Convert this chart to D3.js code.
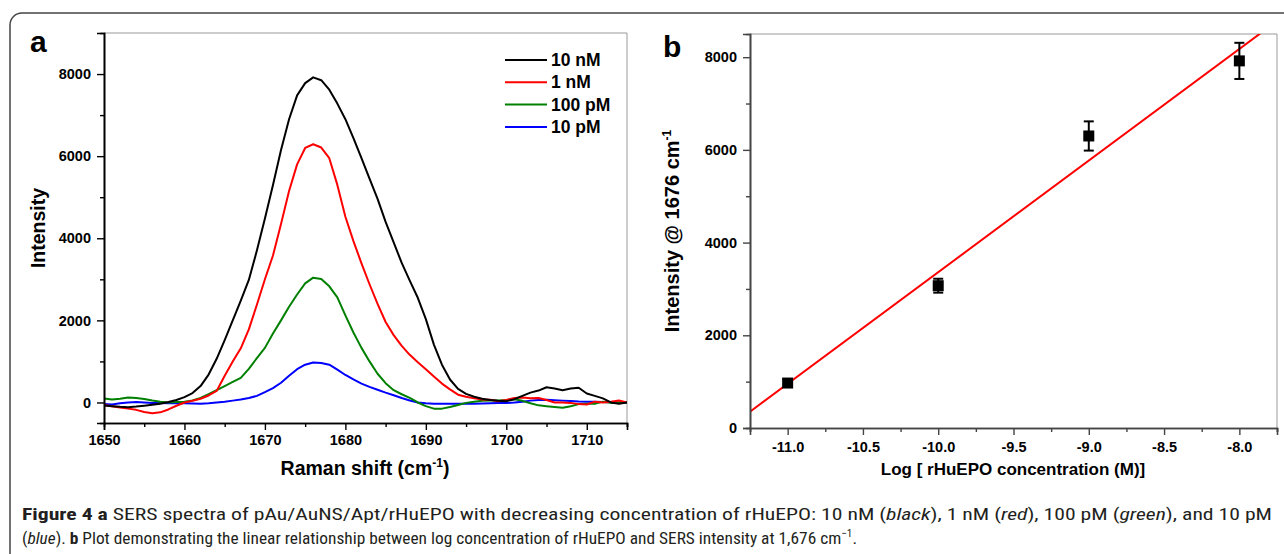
<!DOCTYPE html>
<html>
<head>
<meta charset="utf-8">
<script src="https://cdn.jsdelivr.net/npm/d3@7"></script>
<style>
  body { margin: 0; background: #fff; }
  svg { display: block; }
</style>
</head>
<body>
<svg id="chart"></svg>
<script>
// ---- data: panel a, SERS spectra ----
var shift = [];
for (var s = 1650; s <= 1715; s++) shift.push(s);

var seriesNames = ["10 nM", "1 nM", "100 pM", "10 pM"];
var seriesColors = ["#000000", "#ff0000", "#008000", "#0000ff"];

var black10nM = [-75, -90, -105, -115, -100, -80, -57, -30, 10, 60,
  130, 230, 400, 680, 1064, 1520, 2000, 2480, 2984, 3700,
  4480, 5300, 6150, 6900, 7480, 7780, 7920, 7850, 7620, 7280,
  6900, 6440, 5950, 5450, 4960, 4400, 3900, 3400, 2970, 2550,
  2030, 1410, 920, 560, 330, 210, 140, 90, 60, 40,
  30, 80, 160, 240, 290, 370, 340, 300, 340, 360,
  220, 160, 100, 0, -30, 0];

var red1nM = [-60, -90, -120, -150, -180, -230, -260, -240, -170, -80,
  0, 40, 90, 170, 280, 650, 1000, 1320, 1780, 2380,
  3000, 3580, 4350, 5150, 5800, 6200, 6290, 6210, 5950, 5300,
  4525, 3930, 3390, 2880, 2400, 1960, 1640, 1380, 1160, 980,
  810, 630, 460, 320, 190, 140, 100, 75, 65, 30,
  60, 110, 120, 105, 110, 60, 0, 0, -10, -40,
  -50, 20, 0, 20, 50, 0];

var green100pM = [100, 70, 90, 120, 110, 85, 50, 20, 0, 10,
  20, 50, 110, 200, 300, 400, 500, 600, 820, 1080,
  1330, 1680, 2000, 2330, 2630, 2900, 3040, 3010, 2830, 2560,
  2120, 1704, 1330, 1000, 700, 470, 300, 200, 110, 0,
  -90, -150, -150, -110, -60, -10, 20, 40, 50, 50,
  60, 80, 40, -20, -70, -90, -110, -130, -90, -40,
  -30, -30, 20, -10, 0, 0];

var blue10pM = [-40, -50, -20, 0, 10, 0, -10, -15, -20, -20,
  -20, -25, -30, -20, 0, 20, 45, 70, 110, 160,
  250, 350, 480, 650, 810, 920, 975, 960, 920, 800,
  670, 560, 460, 380, 310, 240, 175, 110, 50, 0,
  -20, -30, -30, -30, -30, -30, -30, -25, -20, -15,
  -15, 0, 20, 45, 60, 65, 55, 45, 35, 25,
  20, 15, 10, 5, 0, 0];

var spectra = [black10nM, red1nM, green100pM, blue10pM];

// ---- data: panel b, calibration ----
var logConc = [-11, -10, -9, -8];
var peakIntensity = [970, 3070, 6300, 7920];
var peakError = [80, 150, 315, 390];

var ticksA_x = [1650, 1660, 1670, 1680, 1690, 1700, 1710];
var ticksA_y = [0, 2000, 4000, 6000, 8000];
var ticksB_x = [-11.0, -10.5, -10.0, -9.5, -9.0, -8.5, -8.0];
var ticksB_y = [0, 2000, 4000, 6000, 8000];

var W = 1284, H = 554;
var svg = d3.select("#chart").attr("width", W).attr("height", H);
var font = "'Liberation Sans', Arial, sans-serif";

// outer rounded frame
svg.append("rect")
  .attr("x", 10).attr("y", 13)
  .attr("width", 1320).attr("height", 620)
  .attr("rx", 12)
  .attr("fill", "none").attr("stroke", "#444").attr("stroke-width", 1.5);

function styleAxis(g, col) {
  g.attr("font-family", font).attr("font-size", 14.5).attr("font-weight", "bold");
  g.select(".domain").attr("stroke", col).attr("stroke-width", 1.6);
  g.selectAll("line").attr("stroke", col).attr("stroke-width", 1.4);
  g.selectAll("text").attr("fill", "#000");
}

// ========== panel a ==========
var ax = d3.scaleLinear().domain([1650, 1715]).range([104, 627]);
var ay = d3.scaleLinear().domain([-500, 9000]).range([423, 33]);

var ga = svg.append("g");

ga.append("line").attr("x1", 104).attr("x2", 627).attr("y1", 33).attr("y2", 33)
  .attr("stroke", "#999").attr("stroke-width", 1);
ga.append("line").attr("x1", 627).attr("x2", 627).attr("y1", 33).attr("y2", 423)
  .attr("stroke", "#999").attr("stroke-width", 1);

var lineA = d3.line()
  .x(function (d, i) { return ax(shift[i]); })
  .y(function (d) { return ay(d); });

ga.append("defs").append("clipPath").attr("id", "clipA")
  .append("rect").attr("x", 104).attr("y", 33).attr("width", 523).attr("height", 390);

var paths = ga.append("g").attr("clip-path", "url(#clipA)");
// draw blue first so black sits on top
[3, 2, 1, 0].forEach(function (k) {
  paths.append("path")
    .datum(spectra[k])
    .attr("d", lineA)
    .attr("fill", "none")
    .attr("stroke", seriesColors[k])
    .attr("stroke-width", 2)
    .attr("stroke-linejoin", "round");
});

// axes a
var axA_x = d3.axisBottom(ax).tickValues(ticksA_x).tickSize(7).tickPadding(5).tickFormat(d3.format("d"));
var axA_xMinor = d3.axisBottom(ax).tickValues(d3.range(1655, 1716, 10)).tickSize(4).tickFormat("");
var axA_y = d3.axisLeft(ay).tickValues(ticksA_y).tickSize(7).tickPadding(6).tickFormat(d3.format("d"));
var axA_yMinor = d3.axisLeft(ay).tickValues([1000, 3000, 5000, 7000]).tickSize(4).tickFormat("");

[axA_x, axA_xMinor].forEach(function (a) {
  ga.append("g").attr("transform", "translate(0,423)").call(a).call(styleAxis, "#000");
});
[axA_y, axA_yMinor].forEach(function (a) {
  ga.append("g").attr("transform", "translate(104,0)").call(a).call(styleAxis, "#000");
});

ga.append("text").attr("x", 30).attr("y", 52).text("a")
  .attr("font-family", font).attr("font-weight", "bold").attr("font-size", 30);

ga.append("text")
  .attr("transform", "translate(45,228) rotate(-90)")
  .attr("text-anchor", "middle")
  .attr("font-family", font).attr("font-weight", "bold").attr("font-size", 19.5)
  .text("Intensity");

var tA = ga.append("text").attr("x", 365).attr("y", 475).attr("text-anchor", "middle")
  .attr("font-family", font).attr("font-weight", "bold").attr("font-size", 19.5);
tA.append("tspan").text("Raman shift (cm");
tA.append("tspan").attr("dy", -8).attr("font-size", 12).text("-1");
tA.append("tspan").attr("dy", 8).text(")");

// legend
var leg = ga.append("g");
seriesNames.forEach(function (n, i) {
  var yy = 60 + i * 22.3;
  leg.append("line").attr("x1", 505).attr("x2", 547).attr("y1", yy).attr("y2", yy)
    .attr("stroke", seriesColors[i]).attr("stroke-width", 2);
  leg.append("text").attr("x", 551).attr("y", yy + 6).text(n)
    .attr("font-family", font).attr("font-weight", "bold").attr("font-size", 17.5);
});

// ========== panel b ==========
var bx = d3.scaleLinear().domain([-11.25, -7.75]).range([750, 1277]);
var by = d3.scaleLinear().domain([0, 8500]).range([428, 34]);

var gb = svg.append("g");
gb.append("line").attr("x1", 750).attr("x2", 1277).attr("y1", 34).attr("y2", 34)
  .attr("stroke", "#999").attr("stroke-width", 1);
gb.append("line").attr("x1", 1277).attr("x2", 1277).attr("y1", 34).attr("y2", 428)
  .attr("stroke", "#999").attr("stroke-width", 1);

// least squares fit through the points
var mx = d3.mean(logConc), my = d3.mean(peakIntensity);
var sxy = d3.sum(logConc, function (v, i) { return (v - mx) * (peakIntensity[i] - my); });
var sxx = d3.sum(logConc, function (v) { return (v - mx) * (v - mx); });
var slope = sxy / sxx, icpt = my - slope * mx;
var fitX = bx.domain();

gb.append("defs").append("clipPath").attr("id", "clipB")
  .append("rect").attr("x", 750).attr("y", 34).attr("width", 527).attr("height", 394);

gb.append("line").attr("clip-path", "url(#clipB)")
  .attr("x1", bx(fitX[0])).attr("y1", by(slope * fitX[0] + icpt))
  .attr("x2", bx(fitX[1])).attr("y2", by(slope * fitX[1] + icpt))
  .attr("stroke", "#ff0000").attr("stroke-width", 2);

var pts = gb.selectAll(".pt").data(logConc).enter().append("g").attr("class", "pt");
pts.append("line")
  .attr("x1", function (d) { return bx(d); }).attr("x2", function (d) { return bx(d); })
  .attr("y1", function (d, i) { return by(peakIntensity[i] + peakError[i]); })
  .attr("y2", function (d, i) { return by(peakIntensity[i] - peakError[i]); })
  .attr("stroke", "#000").attr("stroke-width", 2);
[1, -1].forEach(function (sg) {
  pts.append("line")
    .attr("x1", function (d) { return bx(d) - 5; }).attr("x2", function (d) { return bx(d) + 5; })
    .attr("y1", function (d, i) { return by(peakIntensity[i] + sg * peakError[i]); })
    .attr("y2", function (d, i) { return by(peakIntensity[i] + sg * peakError[i]); })
    .attr("stroke", "#000").attr("stroke-width", 2);
});
pts.append("rect")
  .attr("x", function (d) { return bx(d) - 5.5; })
  .attr("y", function (d, i) { return by(peakIntensity[i]) - 5.5; })
  .attr("width", 11).attr("height", 11).attr("fill", "#000");

var axB_x = d3.axisBottom(bx).tickValues(ticksB_x).tickSize(7).tickPadding(7).tickFormat(d3.format(".1f"));
var axB_xMinor = d3.axisBottom(bx).tickValues(d3.range(-11.25, -7.7, 0.5)).tickSize(4).tickFormat("");
var axB_y = d3.axisLeft(by).tickValues(ticksB_y).tickSize(7).tickPadding(6).tickFormat(d3.format("d"));
var axB_yMinor = d3.axisLeft(by).tickValues([1000, 3000, 5000, 7000]).tickSize(4).tickFormat("");

[axB_x, axB_xMinor].forEach(function (a) {
  gb.append("g").attr("transform", "translate(0,428)").call(a).call(styleAxis, "#444");
});
[axB_y, axB_yMinor].forEach(function (a) {
  gb.append("g").attr("transform", "translate(750,0)").call(a).call(styleAxis, "#444");
});
gb.selectAll(".tick text").text(function () { return this.textContent.replace("\u2212", "-"); });

gb.append("text").attr("x", 663).attr("y", 57).text("b")
  .attr("font-family", font).attr("font-weight", "bold").attr("font-size", 30);

var tB = gb.append("text")
  .attr("transform", "translate(679,231) rotate(-90)")
  .attr("text-anchor", "middle")
  .attr("font-family", font).attr("font-weight", "bold").attr("font-size", 20);
tB.append("tspan").text("Intensity @ 1676 cm");
tB.append("tspan").attr("dy", -8).attr("font-size", 12).text("-1");

gb.append("text").attr("x", 1013).attr("y", 475).attr("text-anchor", "middle")
  .attr("font-family", font).attr("font-weight", "bold").attr("font-size", 17)
  .text("Log [ rHuEPO concentration (M)]");

// ========== caption ==========
var capFont = "'Liberation Sans Narrow', 'Roboto Condensed', 'Noto Sans', sans-serif";
var cap1 = svg.append("text").attr("x", 22).attr("y", 520)
  .attr("font-family", capFont).attr("font-size", 17).attr("fill", "#231f20")
  .attr("textLength", 1250).attr("lengthAdjust", "spacingAndGlyphs");
cap1.append("tspan").attr("font-weight", "bold").text("Figure 4  a");
cap1.append("tspan").text(" SERS spectra of pAu/AuNS/Apt/rHuEPO with decreasing concentration of rHuEPO: 10 nM (");
cap1.append("tspan").attr("font-style", "italic").text("black");
cap1.append("tspan").text("), 1 nM (");
cap1.append("tspan").attr("font-style", "italic").text("red");
cap1.append("tspan").text("), 100 pM (");
cap1.append("tspan").attr("font-style", "italic").text("green");
cap1.append("tspan").text("), and 10 pM");

var cap2 = svg.append("text").attr("x", 22).attr("y", 544)
  .attr("font-family", capFont).attr("font-size", 17).attr("fill", "#231f20")
  .attr("textLength", 835).attr("lengthAdjust", "spacingAndGlyphs");
cap2.append("tspan").text("(");
cap2.append("tspan").attr("font-style", "italic").text("blue");
cap2.append("tspan").text("). ");
cap2.append("tspan").attr("font-weight", "bold").text("b");
cap2.append("tspan").text(" Plot demonstrating the linear relationship between log concentration of rHuEPO and SERS intensity at 1,676 cm");
cap2.append("tspan").attr("dy", -7).attr("font-size", 11).text("\u22121");
cap2.append("tspan").attr("dy", 7).text(".");
</script>
</body>
</html>
